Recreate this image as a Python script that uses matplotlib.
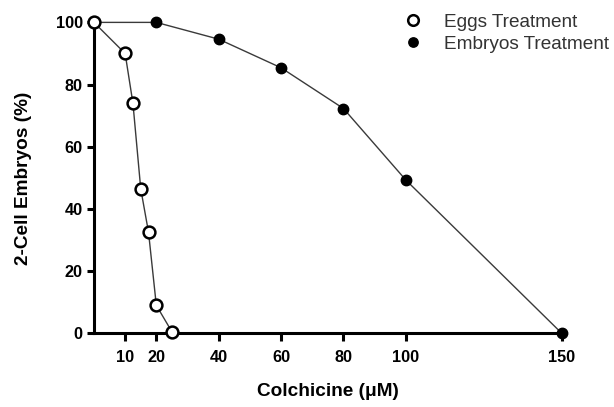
import matplotlib
matplotlib.use("Agg")
import matplotlib.pyplot as plt

plt.rcParams["font.family"] = ["Liberation Sans", "DejaVu Sans"]

# Colchicine dose (uM) and % 2-cell embryos
eggs_dose = [0, 10, 12.5, 15, 17.5, 20, 25]
eggs_pct = [100, 90, 74, 46.5, 32.5, 9, 0.5]
embryo_dose = [0, 20, 40, 60, 80, 100, 150]
embryo_pct = [100, 100, 94.6, 85.4, 72.3, 49.3, 0]
x_ticks = [10, 20, 40, 60, 80, 100, 150]
y_ticks = [0, 20, 40, 60, 80, 100]

fig = plt.figure(figsize=(6.14, 4.07), dpi=100)
ax = fig.add_axes([0.153, 0.181, 0.762, 0.764])

ax.plot(embryo_dose, embryo_pct, color="#3a3a3a", lw=1.0, marker="o", ms=7.5,
        mfc="black", mec="black", clip_on=False, zorder=3,
        label="Embryos Treatment")
ax.plot(eggs_dose, eggs_pct, color="#3a3a3a", lw=1.0, marker="o", ms=8.5,
        mfc="white", mec="black", mew=1.8, clip_on=False, zorder=4,
        label="Eggs Treatment")

ax.set_xlim(0, 150)
ax.set_ylim(0, 100)
ax.set_xticks(x_ticks)
ax.set_yticks(y_ticks)
for s in ("top", "right"):
    ax.spines[s].set_visible(False)
for s in ("left", "bottom"):
    ax.spines[s].set_linewidth(2.2)
ax.tick_params(width=2.2, length=5, labelsize=11.7)
ax.tick_params(axis="x", length=6, pad=6)
ax.tick_params(axis="y", pad=3)
for lab in ax.get_xticklabels() + ax.get_yticklabels():
    lab.set_fontweight("bold")

ax.set_xlabel("Colchicine (\u03bcM)", fontsize=13.7, fontweight="bold", labelpad=13)
ax.set_ylabel("2-Cell Embryos (%)", fontsize=13.7, fontweight="bold", labelpad=17)

h, l = ax.get_legend_handles_labels()
leg = ax.legend(h[::-1], l[::-1], loc="upper left", bbox_to_anchor=(0.625, 1.083),
                frameon=False, fontsize=13.7, handletextpad=1.15,
                labelspacing=0.22, handlelength=1.0, markerscale=0.9)
for t in leg.get_texts():
    t.set_color("#333333")
for lh in leg.legend_handles:
    lh.set_linestyle("none")

fig.savefig("out.png", dpi=100)
